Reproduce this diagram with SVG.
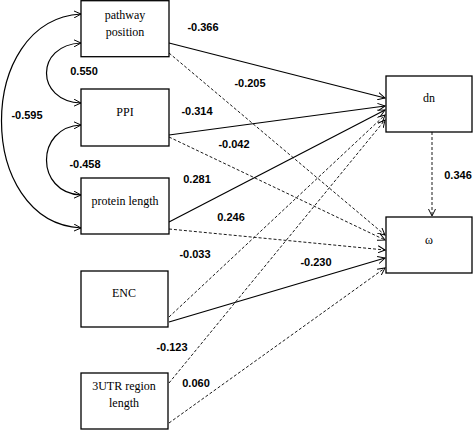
<svg xmlns="http://www.w3.org/2000/svg" width="473" height="430" viewBox="0 0 473 430">
<defs>
<marker id="ah" viewBox="0 0 10 10" refX="9" refY="5" markerWidth="8" markerHeight="8" markerUnits="userSpaceOnUse" orient="auto-start-reverse">
<path d="M0,0.5 L9,5 L0,9.5" fill="none" stroke="#000" stroke-width="1.2"/>
</marker>
<style>
.box{fill:#fff;stroke:#000;stroke-width:1.3}
.nt{font-family:"Liberation Serif","Times New Roman",serif;font-size:12px;text-anchor:middle;fill:#000}
.lb{font-family:"Liberation Sans",Arial,sans-serif;font-size:11px;text-anchor:middle;fill:#000;font-weight:bold}
.s{stroke:#000;stroke-width:1.2;fill:none;marker-end:url(#ah)}
.d{stroke:#000;stroke-width:0.9;fill:none;stroke-dasharray:3,2;marker-end:url(#ah)}
.c{stroke:#000;stroke-width:1.2;fill:none;marker-start:url(#ah);marker-end:url(#ah)}
</style>
</defs>
<rect width="473" height="430" fill="#fff"/>
<g id="connectors">
<path class="c" d="M81,43 C35,45 35,101 81,103"/>
<path class="c" d="M81,125 C35,127 35,193 81,195"/>
<path class="c" d="M81,14 C-25,20 -25,222 81,228"/>
<path class="s" d="M169,43 L385,98"/>
<path class="d" d="M169,53 L385,235"/>
<path class="s" d="M169,135 L385,106"/>
<path class="d" d="M169,137 L385,240"/>
<path class="s" d="M169,222 L385,110"/>
<path class="d" d="M169,229 L385,250"/>
<path class="d" d="M169,317 L385,115"/>
<path class="s" d="M169,322 L385,258"/>
<path class="d" d="M169,383 L385,120"/>
<path class="d" d="M169,423 L385,268"/>
<path class="d" d="M432,132 L432,216"/>
</g>
<g id="labels">
<text class="lb" x="203" y="31">-0.366</text>
<text class="lb" x="84" y="75">0.550</text>
<text class="lb" x="27" y="119">-0.595</text>
<text class="lb" x="197" y="115">-0.314</text>
<text class="lb" x="85" y="168">-0.458</text>
<text class="lb" x="197" y="183">0.281</text>
<text class="lb" x="250" y="87">-0.205</text>
<text class="lb" x="234" y="148">-0.042</text>
<text class="lb" x="231" y="221">0.246</text>
<text class="lb" x="195" y="258">-0.033</text>
<text class="lb" x="316" y="266">-0.230</text>
<text class="lb" x="172" y="351">-0.123</text>
<text class="lb" x="196" y="387">0.060</text>
<text class="lb" x="458" y="179">0.346</text>
</g>
<g id="pathway_position">
<rect class="box" x="81" y="0.7" width="88" height="56"/>
<text class="nt" x="125" y="19">pathway</text>
<text class="nt" x="125" y="36">position</text>
</g>
<g id="PPI">
<rect class="box" x="81" y="89" width="88" height="57"/>
<text class="nt" x="125" y="116">PPI</text>
</g>
<g id="protein_length">
<rect class="box" x="81" y="178" width="88" height="56"/>
<text class="nt" x="125" y="205">protein length</text>
</g>
<g id="ENC">
<rect class="box" x="81" y="271" width="87" height="56"/>
<text class="nt" x="124" y="297">ENC</text>
</g>
<g id="UTR3">
<rect class="box" x="81" y="373" width="87" height="56"/>
<text class="nt" x="124" y="390">3UTR region</text>
<text class="nt" x="124" y="407">length</text>
</g>
<g id="dn">
<rect class="box" x="386" y="76" width="86" height="56"/>
<text class="nt" x="429" y="102">dn</text>
</g>
<g id="omega">
<rect class="box" x="386" y="217" width="86" height="56"/>
<text class="nt" x="429" y="244">ω</text>
</g>
</svg>
